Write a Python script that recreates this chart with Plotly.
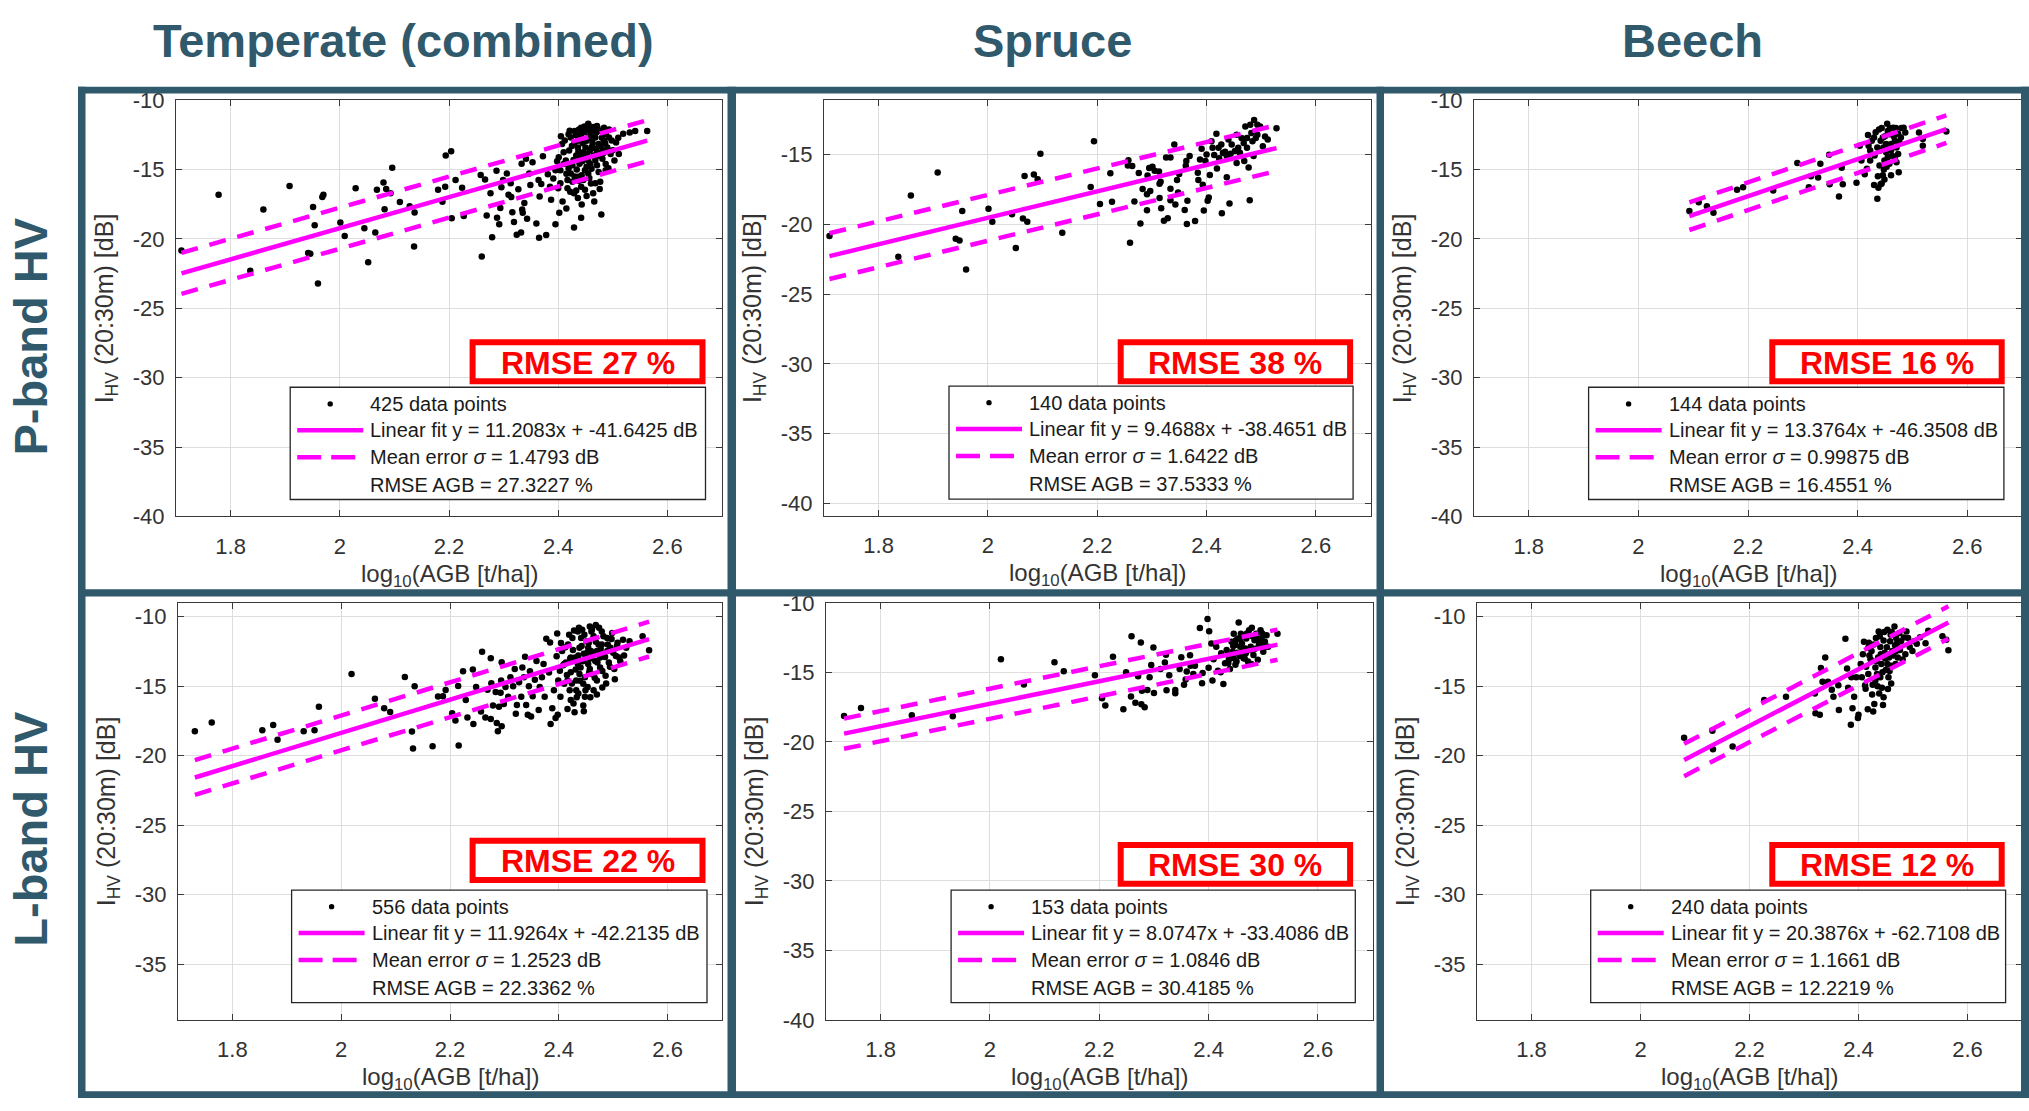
import plotly.graph_objects as go

W, H = 2029, 1111
FONT = "Arial, Liberation Sans, Helvetica, sans-serif"
TEAL = "#30596b"
MAGENTA = "#ff00ff"
GRID = "#dedede"
DASH = "17px,12px"

COLUMN_TITLES = ["Temperate (combined)", "Spruce", "Beech"]
ROW_TITLES = ["P-band HV", "L-band HV"]

X_RANGE = [1.7, 2.7]
X_TICKS = [1.8, 2.0, 2.2, 2.4, 2.6]
Y_TICKS = [-40, -35, -30, -25, -20, -15, -10]
# y ranges: P temperate, P spruce, P beech, L temperate, L spruce, L beech
Y_RANGES = [[-40, -10], [-40.9, -11.1], [-40, -10], [-39, -9], [-40, -10], [-39, -9]]

N_POINTS = [425, 140, 144, 556, 153, 240]
FIT_SLOPE = [11.2083, 9.4688, 13.3764, 11.9264, 8.0747, 20.3876]
FIT_INTERCEPT = [-41.6425, -38.4651, -46.3508, -42.2135, -33.4086, -62.7108]
SIGMA_DB = [1.4793, 1.6422, 0.99875, 1.2523, 1.0846, 1.1661]
RMSE_AGB = [27.3227, 37.5333, 16.4551, 22.3362, 30.4185, 12.2219]

# (log10 AGB [t/ha], I_HV(20:30m) [dB]) samples per panel
P_TEMPERATE = [
    (1.710, -20.83), (1.778, -16.82), (1.836, -22.29), (1.860, -17.88), (1.908, -16.18),
    (1.942, -21.01), (1.946, -21.06), (1.951, -17.69), (1.954, -19.01), (1.960, -23.21),
    (1.968, -16.98), (1.970, -16.82), (2.001, -18.82), (2.009, -19.79), (2.029, -16.34),
    (2.045, -19.22), (2.052, -21.67), (2.065, -19.53), (2.068, -16.46), (2.080, -15.92),
    (2.085, -16.39), (2.093, -16.70), (2.082, -17.85), (2.096, -14.86), (2.110, -17.33),
    (2.128, -17.64), (2.137, -18.09), (2.136, -20.54), (2.180, -16.46), (2.188, -17.31),
    (2.193, -16.23), (2.194, -13.99), (2.204, -13.68), (2.205, -18.51), (2.212, -15.75),
    (2.224, -16.30), (2.227, -18.35), (2.258, -15.38), (2.260, -21.27), (2.266, -15.71),
    (2.269, -18.30), (2.276, -16.70), (2.279, -19.88), (2.287, -15.09), (2.288, -18.47),
    (2.292, -18.94), (2.294, -17.76), (2.296, -16.27), (2.299, -15.75), (2.306, -15.28),
    (2.309, -16.82), (2.313, -15.99), (2.314, -16.98), (2.316, -18.07), (2.319, -18.77),
    (2.324, -19.69), (2.327, -16.42), (2.332, -19.53), (2.333, -14.58), (2.334, -17.88),
    (2.335, -18.11), (2.338, -17.41), (2.341, -14.22), (2.343, -18.54), (2.347, -15.28),
    (2.349, -16.11), (2.353, -14.46), (2.360, -18.89), (2.364, -15.75), (2.365, -19.91),
    (2.366, -16.93), (2.369, -16.04), (2.372, -14.03), (2.378, -19.72), (2.381, -15.33),
    (2.385, -16.23), (2.387, -17.17), (2.391, -15.64), (2.395, -18.94), (2.398, -14.39),
    (2.400, -16.34), (2.402, -18.11), (2.404, -15.05), (2.408, -17.29), (2.410, -13.75),
    (2.417, -15.75), (2.419, -12.45), (2.423, -15.28), (2.429, -19.17), (2.429, -16.70),
    (2.436, -17.05), (2.438, -12.10), (2.442, -18.47), (2.443, -17.52), (2.449, -16.46),
    (2.455, -11.70), (2.461, -12.33), (2.464, -16.70), (2.468, -15.99), (2.471, -11.86),
    (2.477, -15.87), (2.479, -18.23), (2.484, -11.98), (2.487, -15.05), (2.490, -13.40),
    (2.493, -12.69), (2.503, -14.34), (2.506, -13.04), (2.511, -13.87), (2.519, -12.41),
    (2.531, -12.33), (2.541, -12.22), (2.563, -12.22),
    (2.423, -12.69), (2.430, -13.04), (2.436, -13.40), (2.442, -12.45), (2.446, -13.75),
    (2.452, -12.92), (2.455, -14.34), (2.458, -12.22), (2.461, -13.40), (2.465, -13.99),
    (2.468, -12.69), (2.471, -14.69), (2.474, -13.16), (2.477, -12.22), (2.481, -14.22),
    (2.484, -12.92), (2.487, -12.45), (2.449, -15.05), (2.439, -14.58), (2.433, -13.99),
    (2.426, -14.69), (2.420, -13.63), (2.414, -14.34), (2.407, -13.16), (2.401, -14.10),
    (2.436, -15.52), (2.446, -15.75), (2.455, -15.28), (2.461, -14.93), (2.474, -15.17),
    (2.426, -15.87), (2.417, -16.34), (2.442, -16.23), (2.404, -15.99), (2.395, -15.05),
    (2.452, -12.10), (2.465, -11.93), (2.442, -11.98), (2.493, -12.10), (2.496, -13.87),
    (2.481, -13.63), (2.471, -13.75), (2.458, -13.63), (2.449, -14.10), (2.436, -12.92),
    (2.430, -12.22), (2.445, -13.10), (2.462, -12.80), (2.478, -13.30), (2.452, -14.80),
    (2.468, -14.30), (2.440, -14.00), (2.457, -15.60), (2.433, -16.50), (2.419, -14.90),
    (2.487, -14.60), (2.498, -12.90), (2.412, -12.90),
    (2.405, -12.60), (2.410, -14.60), (2.415, -15.30), (2.421, -12.20), (2.425, -13.30),
    (2.428, -14.30), (2.432, -12.50), (2.434, -15.00), (2.437, -13.70), (2.440, -12.80),
    (2.443, -15.40), (2.447, -12.30), (2.450, -13.40), (2.453, -13.90), (2.456, -12.60),
    (2.459, -14.60), (2.463, -13.10), (2.466, -12.40), (2.469, -13.50), (2.472, -12.00),
    (2.475, -14.00), (2.480, -12.70), (2.483, -13.80), (2.486, -13.10), (2.489, -12.20),
    (2.492, -14.90), (2.448, -11.90), (2.458, -11.90), (2.470, -12.30), (2.444, -14.40),
    (2.438, -15.80), (2.460, -16.00), (2.476, -16.40), (2.452, -16.90), (2.430, -15.50),
    (2.422, -16.60), (2.500, -13.60), (2.510, -12.70), (2.415, -17.80), (2.466, -17.30),
]

P_SPRUCE = [
    (1.710, -20.84), (1.836, -22.32), (1.859, -17.93), (1.908, -16.27), (1.941, -21.03),
    (1.948, -21.15), (1.953, -19.04), (1.960, -23.24), (2.001, -18.87), (2.008, -19.81),
    (2.044, -19.27), (2.051, -21.69), (2.064, -19.58), (2.067, -16.53), (2.072, -19.81),
    (2.084, -16.43), (2.091, -16.76), (2.096, -14.93), (2.136, -20.59), (2.188, -17.32),
    (2.194, -14.04), (2.205, -18.54), (2.224, -16.34), (2.227, -18.38), (2.257, -15.40),
    (2.256, -15.77), (2.260, -21.31), (2.264, -15.82), (2.268, -18.36), (2.276, -16.31),
    (2.279, -19.93), (2.283, -17.46), (2.291, -17.84), (2.291, -18.99), (2.292, -16.50),
    (2.295, -15.96), (2.297, -17.61), (2.301, -15.87), (2.305, -16.15), (2.313, -16.20),
    (2.314, -17.09), (2.314, -18.10), (2.316, -16.95), (2.317, -18.85), (2.322, -19.74),
    (2.326, -15.21), (2.329, -19.55), (2.334, -15.21), (2.334, -17.44), (2.334, -18.26),
    (2.341, -14.27), (2.343, -18.57), (2.346, -16.81), (2.348, -17.72), (2.350, -16.38),
    (2.360, -18.97), (2.362, -15.80), (2.363, -15.45), (2.364, -19.98), (2.365, -18.31),
    (2.369, -15.09), (2.379, -19.76), (2.384, -16.29), (2.385, -16.81), (2.388, -15.35),
    (2.391, -14.58), (2.393, -17.16), (2.395, -19.01), (2.398, -15.45), (2.400, -14.98),
    (2.402, -18.31), (2.404, -18.07), (2.406, -16.46), (2.409, -14.04), (2.414, -15.02),
    (2.418, -13.50), (2.419, -15.99), (2.422, -14.51), (2.423, -15.26), (2.428, -19.20),
    (2.430, -14.88), (2.434, -14.79), (2.437, -16.62), (2.440, -13.92), (2.442, -18.50),
    (2.444, -14.93), (2.452, -14.74), (2.455, -15.59), (2.458, -14.51), (2.468, -14.16),
    (2.469, -15.45), (2.471, -12.98), (2.474, -13.81), (2.477, -15.92), (2.479, -18.26),
    (2.480, -12.86), (2.482, -13.45), (2.486, -15.09), (2.487, -12.51), (2.490, -13.81),
    (2.493, -12.86), (2.498, -12.98), (2.503, -14.39), (2.507, -13.69), (2.512, -13.92),
    (2.528, -13.10), (2.411, -14.51), (2.427, -14.27), (2.437, -15.09), (2.446, -14.27),
    (2.461, -14.86), (2.464, -13.81), (2.474, -14.51), (2.484, -14.04), (2.493, -13.57),
    (2.455, -13.57),
]

P_BEECH = [
    (2.093, -17.99), (2.110, -17.36), (2.125, -17.64), (2.137, -18.11), (2.180, -16.46),
    (2.191, -16.27), (2.246, -16.51), (2.290, -14.53), (2.311, -16.27), (2.315, -15.47),
    (2.328, -15.57), (2.332, -14.58), (2.348, -13.92), (2.349, -16.06), (2.366, -16.93),
    (2.371, -14.86), (2.373, -16.06), (2.398, -15.94), (2.404, -13.28), (2.407, -14.34),
    (2.413, -15.33), (2.417, -14.93), (2.419, -12.50), (2.420, -13.28), (2.423, -14.34),
    (2.426, -12.92), (2.430, -16.11), (2.431, -13.99), (2.436, -17.10), (2.437, -15.47),
    (2.439, -12.10), (2.441, -13.63), (2.442, -16.06), (2.446, -12.69), (2.448, -15.00),
    (2.449, -15.71), (2.452, -13.16), (2.454, -11.70), (2.455, -14.10), (2.458, -12.45),
    (2.461, -15.40), (2.461, -13.63), (2.465, -11.98), (2.468, -12.92), (2.471, -14.46),
    (2.474, -12.41), (2.475, -15.19), (2.479, -12.69), (2.484, -11.98), (2.487, -12.33),
    (2.449, -14.34), (2.458, -14.58), (2.461, -13.16), (2.442, -12.92), (2.452, -13.75),
    (2.436, -13.40), (2.430, -12.69), (2.471, -13.40), (2.455, -12.22), (2.512, -12.33),
    (2.519, -12.80), (2.519, -13.28), (2.562, -12.26), (2.423, -13.63), (2.468, -14.10),
    (2.446, -15.40), (2.474, -13.87),
    (2.433, -12.30), (2.440, -14.70), (2.444, -12.00), (2.447, -13.40), (2.450, -12.60),
    (2.453, -14.80), (2.456, -13.40), (2.459, -12.00), (2.463, -14.00), (2.466, -12.60),
    (2.470, -12.00), (2.476, -13.00), (2.480, -12.00), (2.438, -16.30), (2.444, -16.00),
]

L_TEMPERATE = [
    (1.731, -18.24), (1.762, -17.62), (1.855, -18.17), (1.875, -17.79), (1.883, -18.85),
    (1.931, -18.24), (1.951, -18.17), (1.959, -16.47), (2.019, -14.12), (2.062, -15.91),
    (2.079, -16.59), (2.090, -16.85), (2.117, -14.33), (2.130, -18.26), (2.132, -19.48),
    (2.135, -15.01), (2.168, -19.32), (2.178, -15.74), (2.187, -15.72), (2.192, -15.27),
    (2.204, -16.94), (2.210, -17.46), (2.215, -14.99), (2.216, -19.27), (2.224, -13.93),
    (2.229, -16.00), (2.232, -17.25), (2.242, -13.79), (2.243, -17.72), (2.248, -15.06),
    (2.257, -16.82), (2.259, -12.52), (2.265, -17.25), (2.269, -15.25), (2.275, -12.99),
    (2.275, -17.36), (2.276, -14.78), (2.279, -16.38), (2.284, -15.41), (2.286, -17.65),
    (2.288, -18.24), (2.290, -16.47), (2.293, -15.48), (2.294, -14.59), (2.295, -13.27),
    (2.295, -17.88), (2.299, -16.28), (2.302, -15.06), (2.307, -15.76), (2.311, -14.35),
    (2.316, -15.01), (2.319, -13.76), (2.321, -16.99), (2.323, -16.35), (2.327, -14.71),
    (2.331, -15.76), (2.333, -13.65), (2.336, -14.35), (2.338, -12.89), (2.340, -16.35),
    (2.343, -17.06), (2.345, -15.01), (2.347, -13.93), (2.349, -17.18), (2.352, -15.72),
    (2.356, -14.54), (2.359, -13.18), (2.363, -16.71), (2.365, -15.06), (2.369, -14.35),
    (2.372, -13.41), (2.374, -15.76), (2.377, -11.58), (2.382, -14.02), (2.384, -11.86),
    (2.385, -17.72), (2.388, -16.59), (2.391, -15.29), (2.394, -17.29), (2.396, -12.85),
    (2.397, -11.20), (2.398, -17.06), (2.399, -14.59), (2.402, -13.88), (2.403, -15.76),
    (2.406, -12.47), (2.410, -14.82), (2.413, -13.29), (2.416, -16.64), (2.417, -12.00),
    (2.420, -15.29), (2.422, -14.00), (2.425, -11.53), (2.427, -16.24), (2.429, -16.87),
    (2.430, -12.94), (2.432, -14.59), (2.435, -11.06), (2.436, -15.53), (2.438, -12.24),
    (2.440, -13.65), (2.443, -10.94), (2.445, -16.38), (2.446, -12.66), (2.448, -14.35),
    (2.451, -11.76), (2.453, -15.06), (2.454, -13.41), (2.457, -10.71), (2.459, -12.47),
    (2.460, -14.12), (2.464, -11.41), (2.467, -13.18), (2.468, -10.59), (2.470, -14.59),
    (2.473, -12.00), (2.476, -13.65), (2.479, -11.06), (2.483, -12.66), (2.486, -14.24),
    (2.489, -11.53), (2.492, -13.29), (2.495, -12.24), (2.498, -11.18), (2.502, -13.76),
    (2.505, -12.82), (2.508, -11.88), (2.511, -12.94), (2.518, -11.65), (2.524, -12.24),
    (2.530, -11.76), (2.554, -11.41), (2.566, -12.42),
    (2.441, -11.53), (2.451, -12.94), (2.460, -11.06), (2.435, -13.41), (2.445, -14.82),
    (2.457, -13.76), (2.470, -12.47), (2.479, -12.00), (2.422, -12.94), (2.438, -14.12),
    (2.448, -15.76), (2.464, -15.29), (2.454, -12.24), (2.476, -12.94), (2.489, -12.47),
    (2.432, -15.29), (2.416, -14.59), (2.410, -13.41), (2.422, -16.00),
    (2.404, -11.90), (2.408, -13.50), (2.412, -12.20), (2.415, -14.20), (2.419, -11.30),
    (2.421, -13.00), (2.424, -14.80), (2.426, -12.40), (2.428, -11.00), (2.431, -13.80),
    (2.433, -15.80), (2.436, -12.80), (2.437, -10.80), (2.439, -14.60), (2.442, -12.10),
    (2.444, -13.20), (2.447, -11.30), (2.449, -15.30), (2.452, -12.60), (2.455, -11.90),
    (2.456, -14.00), (2.458, -13.00), (2.461, -10.90), (2.463, -12.70), (2.466, -14.40),
    (2.468, -11.80), (2.471, -13.30), (2.474, -10.80), (2.477, -12.30), (2.480, -13.90),
    (2.482, -11.40), (2.485, -12.90), (2.487, -14.80), (2.490, -12.00), (2.494, -13.60),
    (2.497, -11.60), (2.500, -12.60), (2.503, -14.50), (2.507, -12.10), (2.513, -13.20),
    (2.520, -12.80), (2.470, -15.60), (2.446, -16.80), (2.458, -15.80), (2.480, -15.10),
]

L_SPRUCE = [
    (1.733, -18.14), (1.764, -17.57), (1.857, -18.09), (1.932, -18.16), (2.020, -14.06),
    (2.062, -15.87), (2.118, -14.27), (2.135, -14.93), (2.192, -15.21), (2.205, -16.86),
    (2.211, -17.38), (2.225, -13.89), (2.244, -17.66), (2.249, -15.00), (2.258, -16.74),
    (2.259, -12.41), (2.266, -17.19), (2.271, -15.28), (2.276, -12.85), (2.277, -17.29),
    (2.278, -16.32), (2.283, -17.52), (2.288, -16.27), (2.292, -15.35), (2.295, -14.48),
    (2.299, -13.21), (2.300, -16.49), (2.312, -14.76), (2.320, -14.29), (2.322, -13.73),
    (2.323, -16.30), (2.328, -15.21), (2.339, -16.51), (2.339, -16.27), (2.347, -14.76),
    (2.350, -13.92), (2.355, -15.90), (2.358, -15.52), (2.360, -14.95), (2.366, -13.77),
    (2.367, -14.53), (2.372, -15.12), (2.375, -14.53), (2.384, -11.82), (2.388, -15.78),
    (2.389, -15.05), (2.398, -11.16), (2.400, -14.67), (2.401, -12.05), (2.405, -12.92),
    (2.407, -15.59), (2.409, -14.06), (2.414, -13.16), (2.417, -14.88), (2.422, -15.00),
    (2.427, -15.85), (2.430, -14.34), (2.433, -13.40), (2.436, -13.75), (2.437, -14.10),
    (2.439, -14.76), (2.442, -12.81), (2.444, -13.52), (2.446, -12.22), (2.449, -13.04),
    (2.451, -14.22), (2.454, -12.57), (2.455, -11.42), (2.457, -13.82), (2.459, -12.22),
    (2.461, -12.92), (2.464, -13.99), (2.467, -13.28), (2.469, -12.57), (2.472, -14.22),
    (2.474, -11.98), (2.477, -13.16), (2.479, -11.79), (2.482, -13.75), (2.484, -12.69),
    (2.487, -12.22), (2.490, -14.10), (2.492, -13.04), (2.495, -11.98), (2.497, -12.57),
    (2.500, -13.52), (2.503, -12.81), (2.506, -12.34), (2.509, -13.16), (2.526, -12.22),
    (2.449, -14.46), (2.436, -14.34), (2.446, -13.99), (2.468, -13.63), (2.458, -13.16),
    (2.423, -13.63),
    (2.445, -13.10), (2.452, -13.60), (2.458, -12.60), (2.463, -13.30), (2.470, -12.20),
    (2.475, -13.40), (2.480, -12.40), (2.485, -13.30), (2.489, -12.60), (2.494, -12.90),
    (2.498, -12.20), (2.502, -13.20), (2.450, -12.70), (2.466, -14.00), (2.478, -14.40),
]

L_BEECH = [
    (2.080, -18.71), (2.132, -18.21), (2.133, -19.53), (2.169, -19.34), (2.227, -16.00),
    (2.267, -15.76), (2.320, -15.53), (2.321, -16.94), (2.329, -17.06), (2.331, -13.69),
    (2.334, -14.68), (2.339, -12.94), (2.344, -14.68), (2.351, -15.25), (2.354, -15.76),
    (2.363, -14.93), (2.364, -16.71), (2.376, -11.58), (2.379, -13.72), (2.381, -15.11),
    (2.386, -17.77), (2.387, -14.35), (2.389, -16.59), (2.392, -15.76), (2.396, -14.35),
    (2.399, -17.29), (2.400, -17.06), (2.404, -13.41), (2.406, -14.35), (2.408, -12.71),
    (2.412, -14.94), (2.413, -15.18), (2.417, -16.66), (2.418, -14.12), (2.419, -11.88),
    (2.422, -13.06), (2.424, -12.47), (2.427, -16.82), (2.429, -16.28), (2.431, -13.65),
    (2.432, -11.53), (2.434, -14.12), (2.436, -12.94), (2.437, -11.06), (2.438, -15.53),
    (2.440, -12.18), (2.442, -13.41), (2.443, -15.11), (2.445, -16.35), (2.446, -11.72),
    (2.448, -12.59), (2.450, -13.84), (2.453, -10.94), (2.455, -14.35), (2.456, -12.94),
    (2.458, -11.76), (2.460, -13.53), (2.462, -12.47), (2.466, -10.71), (2.467, -12.06),
    (2.469, -11.53), (2.472, -12.94), (2.475, -11.18), (2.478, -11.76), (2.481, -13.08),
    (2.488, -11.06), (2.491, -11.53), (2.494, -12.18), (2.499, -12.47), (2.502, -11.76),
    (2.507, -11.95), (2.513, -11.48), (2.523, -11.91), (2.528, -11.01), (2.554, -11.41),
    (2.561, -11.65), (2.565, -12.42), (2.440, -14.35), (2.453, -13.41), (2.431, -14.59),
    (2.469, -12.47), (2.424, -13.18), (2.459, -11.29), (2.418, -12.24),
    (2.410, -11.80), (2.414, -13.60), (2.420, -12.80), (2.426, -14.90), (2.428, -12.00),
    (2.433, -13.20), (2.435, -15.00), (2.439, -11.40), (2.441, -12.70), (2.444, -14.00),
    (2.447, -11.10), (2.449, -13.00), (2.452, -12.20), (2.454, -15.20), (2.457, -13.90),
    (2.461, -11.10), (2.464, -12.80), (2.468, -13.40), (2.471, -11.90), (2.476, -12.40),
    (2.483, -11.50), (2.486, -12.70), (2.446, -15.80), (2.425, -15.60), (2.460, -14.80),
]

PANEL_POINTS = [P_TEMPERATE, P_SPRUCE, P_BEECH, L_TEMPERATE, L_SPRUCE, L_BEECH]

# page geometry in pixels (x0, y0, x1, y1), origin at top-left
PLOT_BOXES = [
    (176, 90.3, 722, 516), (824, 90.3, 1370.5, 515.5), (1474, 90.3, 2022, 516),
    (178, 604.4, 722, 1031), (826, 604.4, 1372.6, 1031), (1477, 604.4, 2022, 1031),
]
RMSE_BOXES = [
    (469.6, 334.9, 705.5, 380.8), (1117.7, 334.9, 1353.1, 380.8), (1769.3, 334.9, 2004.7, 380.8),
    (469.6, 844.8, 705.5, 890.9), (1117.7, 849.2, 1353.1, 894.9), (1769.3, 849.2, 2004.7, 894.9),
]
LEGEND_BOXES = [
    (290.2, 383.9, 705.5, 498.7), (949, 382.7, 1353.1, 498.3), (1588.6, 383.9, 2003.9, 498.7),
    (291.6, 898.3, 707, 1013.5), (951.1, 898.3, 1355.3, 1013.5), (1590.7, 898.3, 2005.6, 1013.5),
]
FRAME_COLS = [(78, 85.5), (727.5, 736), (1376.5, 1384), (2021, 2029)]
FRAME_ROWS = [(76.5, 83.5), (590.5, 598), (1104, 1111)]
COL_TITLE_X = [403.5, 1052, 1692]
ROW_TITLE_Y = [332, 835.5]


def px(x):
    return x / W


def py(y):
    return 1 - y / H


fig = go.Figure()
shapes = []
annotations = []
layout_axes = {}

for i, pts in enumerate(PANEL_POINTS):
    sfx = "" if i == 0 else str(i + 1)
    xs = [p[0] for p in pts]
    ys = [p[1] for p in pts]
    fig.add_trace(go.Scatter(
        x=xs, y=ys, mode="markers", xaxis="x" + sfx, yaxis="y" + sfx,
        marker=dict(size=6.5, color="black", line=dict(width=0)),
        showlegend=False, hoverinfo="skip"))

    fx = [min(xs), max(xs)]
    fit = [FIT_SLOPE[i] * v + FIT_INTERCEPT[i] for v in fx]
    for off, dash in ((0.0, "solid"), (SIGMA_DB[i], DASH), (-SIGMA_DB[i], DASH)):
        fig.add_trace(go.Scatter(
            x=fx, y=[v + off for v in fit], mode="lines", xaxis="x" + sfx, yaxis="y" + sfx,
            line=dict(color=MAGENTA, width=4.5, dash=dash),
            showlegend=False, hoverinfo="skip"))

    x0, y0, x1, y1 = PLOT_BOXES[i]
    common = dict(
        showgrid=True, gridcolor=GRID, gridwidth=1, zeroline=False,
        showline=True, linecolor="#3a3a3a", linewidth=1, mirror="ticks",
        ticks="inside", ticklen=6, tickcolor="#3a3a3a", tickwidth=1,
        tickfont=dict(family=FONT, size=22, color="#333333"),
    )
    layout_axes["xaxis" + sfx] = dict(
        domain=[px(x0), px(x1)], range=X_RANGE, anchor="y" + sfx,
        tickmode="array", tickvals=X_TICKS, ticktext=[f"{v:g}" for v in X_TICKS],
        ticklabelstandoff=10, **common)
    layout_axes["yaxis" + sfx] = dict(
        domain=[py(y1), py(y0)], range=Y_RANGES[i], anchor="x" + sfx,
        tickmode="array", tickvals=Y_TICKS, ticktext=[f"{v:g}" for v in Y_TICKS],
        ticklabelstandoff=6, **common)

    # axis titles
    annotations.append(dict(
        text="log<sub>10</sub>(AGB [t/ha])", xref="paper", yref="paper",
        x=px((x0 + x1) / 2), y=py(y1 + 60), xanchor="center", yanchor="middle",
        showarrow=False, font=dict(family=FONT, size=24, color="#333333")))
    annotations.append(dict(
        text="I<sub>HV</sub> (20:30m) [dB]", xref="paper", yref="paper",
        x=px(x0 - 70), y=py((y0 + y1) / 2), xanchor="center", yanchor="middle",
        textangle=-90, showarrow=False, font=dict(family=FONT, size=25, color="#333333")))

    # RMSE highlight box
    bx0, by0, bx1, by1 = RMSE_BOXES[i]
    shapes.append(dict(type="rect", xref="paper", yref="paper",
                       x0=px(bx0 + 3), x1=px(bx1 - 3), y0=py(by1 - 3), y1=py(by0 + 3),
                       line=dict(color="#ff0000", width=6), fillcolor="white", layer="above"))
    annotations.append(dict(
        text=f"<b>RMSE {round(RMSE_AGB[i])} %</b>", xref="paper", yref="paper",
        x=px((bx0 + bx1) / 2), y=py((by0 + by1) / 2 + 1), xanchor="center", yanchor="middle",
        showarrow=False, font=dict(family=FONT, size=32, color="#ff0000")))

    # legend box
    lx0, ly0, lx1, ly1 = LEGEND_BOXES[i]
    shapes.append(dict(type="rect", xref="paper", yref="paper",
                       x0=px(lx0), x1=px(lx1), y0=py(ly1), y1=py(ly0),
                       line=dict(color="#262626", width=1.3), fillcolor="white", layer="above"))
    rows = [ly0 + 17, ly0 + 44, ly0 + 71.5, ly0 + 100]
    shapes.append(dict(type="circle", xref="paper", yref="paper",
                       x0=px(lx0 + 37.3), x1=px(lx0 + 42.7), y0=py(rows[0] + 2.7), y1=py(rows[0] - 2.7),
                       line=dict(width=0), fillcolor="black", layer="above"))
    shapes.append(dict(type="line", xref="paper", yref="paper",
                       x0=px(lx0 + 7), x1=px(lx0 + 73), y0=py(rows[1]), y1=py(rows[1]),
                       line=dict(color=MAGENTA, width=4.5), layer="above"))
    shapes.append(dict(type="line", xref="paper", yref="paper",
                       x0=px(lx0 + 7), x1=px(lx0 + 73), y0=py(rows[2]), y1=py(rows[2]),
                       line=dict(color=MAGENTA, width=4.5, dash="24px,10px"), layer="above"))
    texts = [
        f"{N_POINTS[i]} data points",
        f"Linear fit y = {FIT_SLOPE[i]:g}x + {FIT_INTERCEPT[i]:g} dB",
        f"Mean error <i>σ</i> = {SIGMA_DB[i]:g} dB",
        f"RMSE AGB = {RMSE_AGB[i]:g} %",
    ]
    for t, ry in zip(texts, rows):
        annotations.append(dict(
            text=t, xref="paper", yref="paper", x=px(lx0 + 78), y=py(ry),
            xanchor="left", yanchor="middle", showarrow=False,
            font=dict(family=FONT, size=20, color="#1a1a1a")))

# panel frame
for c0, c1 in FRAME_COLS:
    shapes.append(dict(type="rect", xref="paper", yref="paper",
                       x0=px(c0), x1=px(c1), y0=py(1111), y1=py(76.5),
                       line=dict(width=0), fillcolor=TEAL, layer="above"))
for r0, r1 in FRAME_ROWS:
    shapes.append(dict(type="rect", xref="paper", yref="paper",
                       x0=px(78), x1=px(2029), y0=py(r1), y1=py(r0),
                       line=dict(width=0), fillcolor=TEAL, layer="above"))

# column and row headers
for t, cx in zip(COLUMN_TITLES, COL_TITLE_X):
    annotations.append(dict(
        text=f"<b>{t}</b>", xref="paper", yref="paper", x=px(cx), y=py(29),
        xanchor="center", yanchor="middle", showarrow=False,
        font=dict(family=FONT, size=47, color=TEAL)))
for t, cy in zip(ROW_TITLES, ROW_TITLE_Y):
    annotations.append(dict(
        text=f"<b>{t}</b>", xref="paper", yref="paper", x=px(31), y=py(cy),
        xanchor="center", yanchor="middle", textangle=-90, showarrow=False,
        font=dict(family=FONT, size=47, color=TEAL)))

fig.update_layout(
    width=W, height=H, margin=dict(l=0, r=0, t=0, b=0),
    paper_bgcolor="white", plot_bgcolor="white", showlegend=False,
    shapes=shapes, annotations=annotations, **layout_axes)

fig.write_html("out.html")
